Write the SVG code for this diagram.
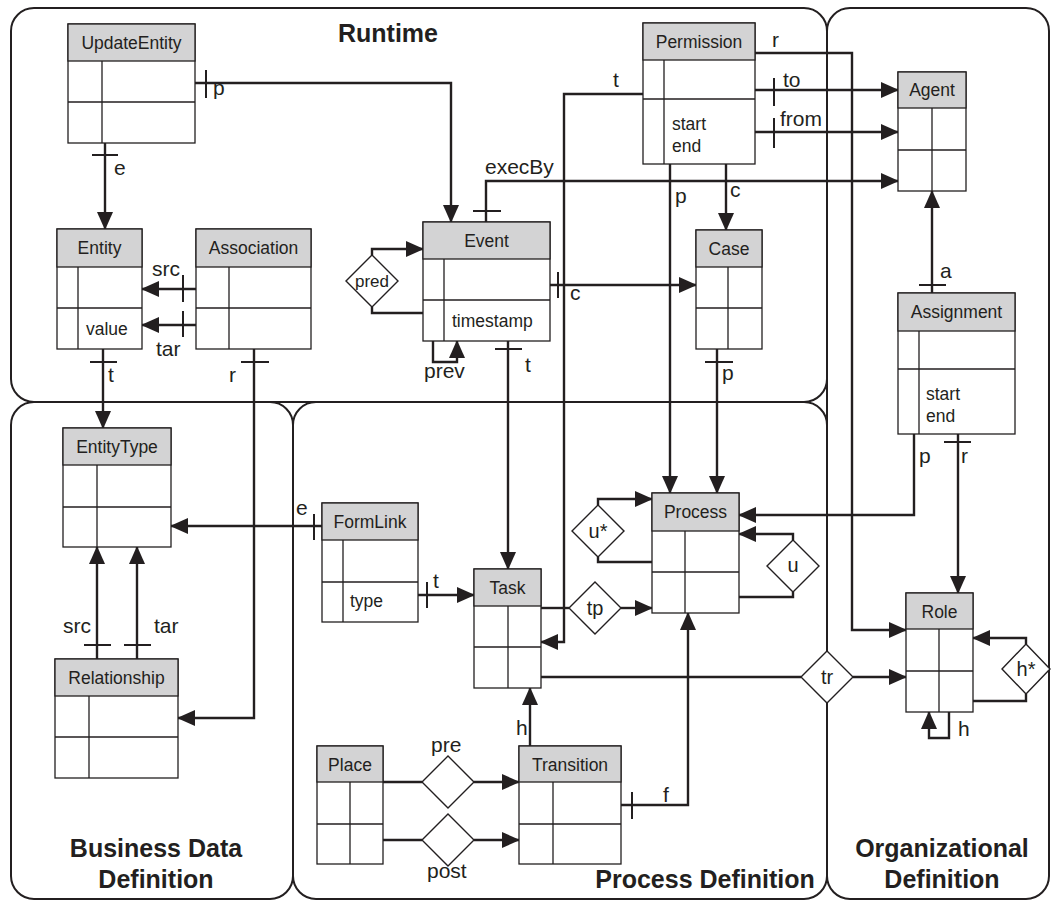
<svg xmlns="http://www.w3.org/2000/svg" width="1051" height="902" viewBox="0 0 1051 902">
<defs>
<style>
.panel{fill:none;stroke:#231f20;stroke-width:2}
.box{fill:#fff;stroke:#231f20;stroke-width:1.3}
.hdr{fill:#d3d3d4;stroke:#231f20;stroke-width:1.3}
.ln{fill:none;stroke:#231f20;stroke-width:1.3}
.c{fill:none;stroke:#231f20;stroke-width:2.4}
.bar{fill:none;stroke:#231f20;stroke-width:2}
.dia{fill:#fff;stroke:#231f20;stroke-width:1.4}
text{font-family:"Liberation Sans",Arial,Helvetica,sans-serif;fill:#231f20}
.nt{font-size:17.5px;text-anchor:middle}
.rt{font-size:17.5px}
.cl{font-size:21px}
.dl{font-size:20px;text-anchor:middle}
.title{font-size:25px;font-weight:bold;text-anchor:middle}
</style>
<marker id="arr" markerUnits="userSpaceOnUse" markerWidth="18" markerHeight="16" viewBox="0 0 18 16" refX="17" refY="8" orient="auto">
<path d="M0,0 L18,8 L0,16 z" fill="#231f20"/>
</marker>
</defs>
<rect width="1051" height="902" fill="#fff"/>

<g id="panels">
<rect id="runtime" class="panel" x="11" y="8" width="816" height="394" rx="23" ry="23"/>
<rect id="business" class="panel" x="11" y="402" width="282" height="497" rx="23" ry="23"/>
<rect id="process-def" class="panel" x="293" y="402" width="534" height="497" rx="23" ry="23"/>
<rect id="organizational" class="panel" x="827" y="8" width="222" height="891" rx="23" ry="23"/>
<text class="title" x="388" y="42">Runtime</text>
<text class="title" x="156" y="857">Business Data</text>
<text class="title" x="156" y="888">Definition</text>
<text class="title" x="705" y="888">Process Definition</text>
<text class="title" x="942" y="857">Organizational</text>
<text class="title" x="942" y="888">Definition</text>
</g>

<g id="connectors">
<!-- UpdateEntity -> Event -->
<path class="c" d="M195,83 H451 V222" marker-end="url(#arr)"/>
<path class="bar" d="M206,70 V98"/>
<text class="cl" x="213" y="95">p</text>
<!-- UpdateEntity -> Entity -->
<path class="c" d="M105,143 V229" marker-end="url(#arr)"/>
<path class="bar" d="M92,155 H118"/>
<text class="cl" x="114" y="175">e</text>
<!-- Association -> Entity -->
<path class="c" d="M196,289 H142" marker-end="url(#arr)"/>
<path class="bar" d="M183,275 V302"/>
<text class="cl" x="152" y="276">src</text>
<path class="c" d="M196,325 H142" marker-end="url(#arr)"/>
<path class="bar" d="M183,311 V337"/>
<text class="cl" x="156" y="356">tar</text>
<!-- Entity -> EntityType -->
<path class="c" d="M103,349 V428" marker-end="url(#arr)"/>
<path class="bar" d="M90,362 H117"/>
<text class="cl" x="108" y="382">t</text>
<!-- Association -> Relationship -->
<path class="c" d="M254,349 V718 H178" marker-end="url(#arr)"/>
<path class="bar" d="M241,362 H269"/>
<text class="cl" x="229" y="382">r</text>
<!-- FormLink -> EntityType -->
<path class="c" d="M322,526 H171" marker-end="url(#arr)"/>
<path class="bar" d="M314,514 V540"/>
<text class="cl" x="296" y="515">e</text>
<!-- Relationship -> EntityType -->
<path class="c" d="M97,659 V547" marker-end="url(#arr)"/>
<path class="c" d="M137,659 V547" marker-end="url(#arr)"/>
<path class="bar" d="M84,645 H111 M124,645 H151"/>
<text class="cl" x="63" y="633">src</text>
<text class="cl" x="154" y="633">tar</text>
<!-- pred loop -->
<path class="c" d="M372,255 V249 H423" marker-end="url(#arr)"/>
<path class="c" d="M372,307 V313 H423"/>
<!-- prev loop -->
<path class="c" d="M433,341 V362 H457 V341" marker-end="url(#arr)"/>
<text class="cl" x="424" y="378">prev</text>
<!-- Event -> Case -->
<path class="c" d="M550,285 H696" marker-end="url(#arr)"/>
<path class="bar" d="M558,272 V298"/>
<text class="cl" x="570" y="300">c</text>
<!-- Event -> Task -->
<path class="c" d="M508,341 V569" marker-end="url(#arr)"/>
<path class="bar" d="M495,349 H522"/>
<text class="cl" x="525" y="372">t</text>
<!-- Event -> Agent execBy -->
<path class="c" d="M486,222 V181 H898" marker-end="url(#arr)"/>
<path class="bar" d="M473,211 H501"/>
<text class="cl" x="485" y="174">execBy</text>
<!-- Permission -> Task t -->
<path class="c" d="M643,94 H564 V642 H541" marker-end="url(#arr)"/>
<text class="cl" x="613" y="87">t</text>
<!-- Permission -> Process p -->
<path class="c" d="M670,164 V493" marker-end="url(#arr)"/>
<text class="cl" x="675" y="203">p</text>
<!-- Permission -> Case c -->
<path class="c" d="M726,164 V230" marker-end="url(#arr)"/>
<text class="cl" x="730" y="197">c</text>
<!-- Permission -> Agent to / from -->
<path class="c" d="M755,90 H898" marker-end="url(#arr)"/>
<path class="bar" d="M774,78 V106"/>
<text class="cl" x="783" y="87">to</text>
<path class="c" d="M755,132 H898" marker-end="url(#arr)"/>
<path class="bar" d="M774,118 V148"/>
<text class="cl" x="780" y="126">from</text>
<!-- Permission -> Role r -->
<path class="c" d="M755,53 H852 V630 H906" marker-end="url(#arr)"/>
<text class="cl" x="772" y="47">r</text>
<!-- Case -> Process p -->
<path class="c" d="M717,349 V493" marker-end="url(#arr)"/>
<path class="bar" d="M705,362 H733"/>
<text class="cl" x="722" y="380">p</text>
<!-- Assignment -> Agent a -->
<path class="c" d="M932,293 V191" marker-end="url(#arr)"/>
<path class="bar" d="M919,285 H946"/>
<text class="cl" x="940" y="278">a</text>
<!-- Assignment -> Process p -->
<path class="c" d="M914,434 V515 H739" marker-end="url(#arr)"/>
<text class="cl" x="919" y="463">p</text>
<!-- Assignment -> Role r -->
<path class="c" d="M958,434 V593" marker-end="url(#arr)"/>
<path class="bar" d="M944,442 H971"/>
<text class="cl" x="961" y="463">r</text>
<!-- FormLink -> Task t -->
<path class="c" d="M418,595 H474" marker-end="url(#arr)"/>
<path class="bar" d="M427,582 V608"/>
<text class="cl" x="433" y="588">t</text>
<!-- Task -> Process tp -->
<path class="c" d="M541,608 H569"/>
<path class="c" d="M621,608 H652" marker-end="url(#arr)"/>
<!-- u* loop -->
<path class="c" d="M598,505 V499 H652" marker-end="url(#arr)"/>
<path class="c" d="M598,557 V562 H652"/>
<!-- u loop -->
<path class="c" d="M793,540 V534 H739" marker-end="url(#arr)"/>
<path class="c" d="M793,592 V597 H739"/>
<!-- Task -> Role tr -->
<path class="c" d="M541,677 H801"/>
<path class="c" d="M853,677 H906" marker-end="url(#arr)"/>
<!-- Transition -> Task h -->
<path class="c" d="M530,746 V688" marker-end="url(#arr)"/>
<text class="cl" x="516" y="735">h</text>
<!-- Place -> Transition pre / post -->
<path class="c" d="M383,782 H422"/>
<path class="c" d="M474,782 H519" marker-end="url(#arr)"/>
<text class="cl" x="431" y="752">pre</text>
<path class="c" d="M383,840 H422"/>
<path class="c" d="M474,840 H519" marker-end="url(#arr)"/>
<text class="cl" x="427" y="878">post</text>
<!-- Transition -> Process f -->
<path class="c" d="M621,805 H688 V613" marker-end="url(#arr)"/>
<path class="bar" d="M632,792 V819"/>
<text class="cl" x="663" y="802">f</text>
<!-- h* loop -->
<path class="c" d="M1026,644 V638 H973" marker-end="url(#arr)"/>
<path class="c" d="M1026,694 V701 H973"/>
<!-- Role h loop -->
<path class="c" d="M949,712 V738 H929 V712" marker-end="url(#arr)"/>
<text class="cl" x="958" y="736">h</text>
</g>

<g id="UpdateEntity">
<rect class="box" x="68" y="24" width="127" height="119"/>
<rect class="hdr" x="68" y="24" width="127" height="37"/>
<path class="ln" d="M68,102H195 M102,61V143"/>
<text class="nt" x="131.5" y="49">UpdateEntity</text>
</g>
<g id="Entity">
<rect class="box" x="57" y="229" width="85" height="120"/>
<rect class="hdr" x="57" y="229" width="85" height="38"/>
<path class="ln" d="M57,308H142 M78,267V349"/>
<text class="nt" x="99.5" y="254">Entity</text>
<text class="rt" x="86" y="335">value</text>
</g>
<g id="Association">
<rect class="box" x="196" y="229" width="115" height="120"/>
<rect class="hdr" x="196" y="229" width="115" height="38"/>
<path class="ln" d="M196,308H311 M229,267V349"/>
<text class="nt" x="253.5" y="254">Association</text>
</g>
<g id="Event">
<rect class="box" x="423" y="222" width="127" height="119"/>
<rect class="hdr" x="423" y="222" width="127" height="37"/>
<path class="ln" d="M423,300H550 M444,259V341"/>
<text class="nt" x="486.5" y="247">Event</text>
<text class="rt" x="452" y="327">timestamp</text>
</g>
<g id="Permission">
<rect class="box" x="643" y="23" width="112" height="141"/>
<rect class="hdr" x="643" y="23" width="112" height="37"/>
<path class="ln" d="M643,99H755 M664,60V164"/>
<text class="nt" x="699" y="48">Permission</text>
<text class="rt" x="672" y="130">start</text>
<text class="rt" x="672" y="152">end</text>
</g>
<g id="Agent">
<rect class="box" x="898" y="72" width="68" height="119"/>
<rect class="hdr" x="898" y="72" width="68" height="36"/>
<path class="ln" d="M898,150H966 M932,108V191"/>
<text class="nt" x="932" y="96">Agent</text>
</g>
<g id="Case">
<rect class="box" x="696" y="230" width="66" height="119"/>
<rect class="hdr" x="696" y="230" width="66" height="37"/>
<path class="ln" d="M696,308H762 M728,267V349"/>
<text class="nt" x="729" y="255">Case</text>
</g>
<g id="Assignment">
<rect class="box" x="898" y="293" width="117" height="141"/>
<rect class="hdr" x="898" y="293" width="117" height="38"/>
<path class="ln" d="M898,369H1015 M919,331V434"/>
<text class="nt" x="956.5" y="318">Assignment</text>
<text class="rt" x="926" y="400">start</text>
<text class="rt" x="926" y="422">end</text>
</g>
<g id="EntityType">
<rect class="box" x="63" y="428" width="108" height="119"/>
<rect class="hdr" x="63" y="428" width="108" height="37"/>
<path class="ln" d="M63,507H171 M97,465V547"/>
<text class="nt" x="117" y="453">EntityType</text>
</g>
<g id="Relationship">
<rect class="box" x="55" y="659" width="123" height="119"/>
<rect class="hdr" x="55" y="659" width="123" height="37"/>
<path class="ln" d="M55,737H178 M89,696V778"/>
<text class="nt" x="116.5" y="684">Relationship</text>
</g>
<g id="FormLink">
<rect class="box" x="322" y="503" width="96" height="119"/>
<rect class="hdr" x="322" y="503" width="96" height="37"/>
<path class="ln" d="M322,582H418 M343,540V622"/>
<text class="nt" x="370" y="528">FormLink</text>
<text class="rt" x="350" y="607">type</text>
</g>
<g id="Task">
<rect class="box" x="474" y="569" width="67" height="119"/>
<rect class="hdr" x="474" y="569" width="67" height="37"/>
<path class="ln" d="M474,647H541 M508,606V688"/>
<text class="nt" x="507.5" y="594">Task</text>
</g>
<g id="Process">
<rect class="box" x="652" y="493" width="87" height="120"/>
<rect class="hdr" x="652" y="493" width="87" height="38"/>
<path class="ln" d="M652,572H739 M685,531V613"/>
<text class="nt" x="695.5" y="518">Process</text>
</g>
<g id="Role">
<rect class="box" x="906" y="593" width="67" height="119"/>
<rect class="hdr" x="906" y="593" width="67" height="36"/>
<path class="ln" d="M906,671H973 M939,629V712"/>
<text class="nt" x="939.5" y="618">Role</text>
</g>
<g id="Place">
<rect class="box" x="317" y="746" width="66" height="118"/>
<rect class="hdr" x="317" y="746" width="66" height="36"/>
<path class="ln" d="M317,824H383 M350,782V864"/>
<text class="nt" x="350" y="771">Place</text>
</g>
<g id="Transition">
<rect class="box" x="519" y="746" width="102" height="118"/>
<rect class="hdr" x="519" y="746" width="102" height="36"/>
<path class="ln" d="M519,824H621 M553,782V864"/>
<text class="nt" x="570" y="771">Transition</text>
</g>

<g id="pred">
<path class="dia" d="M372,255 L398,281 L372,307 L346,281 z"/>
<text class="nt" x="372" y="287" style="font-size:17px">pred</text>
</g>
<g id="tp">
<path class="dia" d="M595,582 L621,608 L595,634 L569,608 z"/>
<text class="dl" x="595" y="615">tp</text>
</g>
<g id="u-star">
<path class="dia" d="M598,505 L624,531 L598,557 L572,531 z"/>
<text class="dl" x="598" y="538">u*</text>
</g>
<g id="u">
<path class="dia" d="M793,540 L819,566 L793,592 L767,566 z"/>
<text class="dl" x="793" y="572">u</text>
</g>
<g id="tr">
<path class="dia" d="M827,651 L853,677 L827,703 L801,677 z"/>
<text class="dl" x="827" y="684">tr</text>
</g>
<g id="h-star">
<path class="dia" d="M1026,644 L1050,669 L1026,694 L1002,669 z"/>
<text class="dl" x="1026" y="676">h*</text>
</g>
<g id="pre">
<path class="dia" d="M448,756 L474,782 L448,808 L422,782 z"/>
</g>
<g id="post">
<path class="dia" d="M448,814 L474,840 L448,866 L422,840 z"/>
</g>
</svg>
